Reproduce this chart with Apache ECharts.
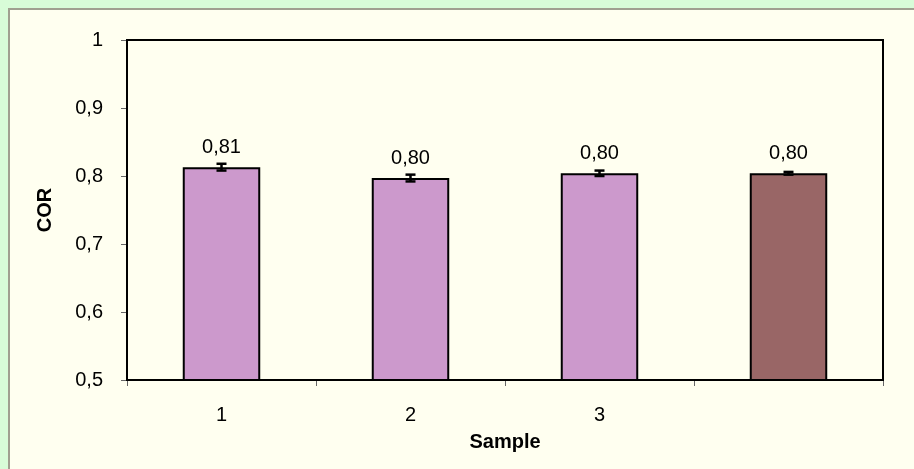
<!DOCTYPE html>
<html>
<head>
<meta charset="utf-8">
<script src="https://cdn.jsdelivr.net/npm/echarts@6/dist/echarts.min.js"></script>
<style>
  html, body { margin: 0; padding: 0; background: #d8fcd8; }
  #chart { width: 914px; height: 469px; }
</style>
</head>
<body>
<div id="chart"></div>
<script>
// values
const categories = ['1', '2', '3', '']
const corValues = [0.813, 0.797, 0.804, 0.804]
const corErrors = [0.005, 0.005, 0.004, 0.002]
const barColors = ['#cc99cc', '#cc99cc', '#cc99cc', '#996666']
const yTicks = [0.5, 0.6, 0.7, 0.8, 0.9, 1]

const fmt = (v) => (v === 1 ? '1' : v.toFixed(1).replace('.', ','))
const font = 'Liberation Sans'

const myChart = echarts.init(document.getElementById('chart'))

const option = {
  backgroundColor: '#d8fcd8',
  animation: false,
  title: {
    text: 'Coefficient of Restitution',
    left: 'center',
    top: -21,
    textStyle: { fontFamily: font, fontSize: 19, fontWeight: 'bold', color: '#555' },
    z: -2,
    zlevel: 0
  },
  graphic: [
    {
      type: 'rect',
      z: -1,
      zlevel: 0,
      silent: true,
      shape: { x: 9, y: 9, width: 920, height: 480 },
      style: { fill: '#fffff0', stroke: '#a0a090', lineWidth: 2 }
    }
  ],
  grid: {
    left: 127,
    right: 31,
    top: 40,
    bottom: 89,
    show: true,
    borderColor: '#000',
    borderWidth: 2,
    backgroundColor: 'transparent',
    z: 5
  },
  xAxis: {
    type: 'category',
    data: categories,
    name: 'Sample',
    nameLocation: 'middle',
    nameGap: 52,
    nameTextStyle: { fontFamily: font, fontSize: 20, fontWeight: 'bold', color: '#000' },
    axisLine: { lineStyle: { color: '#000', width: 2 } },
    axisTick: { show: true, alignWithLabel: false, length: 6, lineStyle: { color: '#666' } },
    axisLabel: { margin: 25, fontFamily: font, fontSize: 20, color: '#000' }
  },
  yAxis: {
    type: 'value',
    min: 0.5,
    max: 1,
    interval: 0.1,
    name: 'COR',
    nameLocation: 'middle',
    nameGap: 72,
    nameTextStyle: { fontFamily: font, fontSize: 20, fontWeight: 'bold', color: '#000' },
    axisLine: { show: true, lineStyle: { color: '#000', width: 2 } },
    axisTick: { show: true, length: 6, lineStyle: { color: '#666' } },
    splitLine: { show: false },
    axisLabel: {
      margin: 24,
      fontFamily: font,
      fontSize: 20,
      color: '#000',
      formatter: (v) => {
        const t = yTicks.find((x) => Math.abs(x - v) < 1e-6)
        return t === undefined ? '' : fmt(t)
      }
    }
  },
  series: [
    {
      type: 'bar',
      barWidth: '41%',
      data: corValues.map((v, i) => ({
        value: v,
        itemStyle: { color: barColors[i], borderColor: '#000', borderWidth: 2 }
      })),
      label: {
        show: true,
        position: 'top',
        distance: 10,
        fontFamily: font,
        fontSize: 20,
        color: '#000',
        formatter: (p) => p.value.toFixed(2).replace('.', ',')
      },
      z: 2
    },
    {
      type: 'custom',
      data: corValues.map((v, i) => [i, v, corErrors[i]]),
      renderItem: (params, api) => {
        const x = api.value(0)
        const v = api.value(1)
        const e = api.value(2)
        const hi = api.coord([x, v + e])
        const lo = api.coord([x, v - e])
        const cap = 5
        const style = { stroke: '#000', lineWidth: 2.5 }
        return {
          type: 'group',
          children: [
            { type: 'line', shape: { x1: hi[0], y1: hi[1], x2: lo[0], y2: lo[1] }, style },
            { type: 'line', shape: { x1: hi[0] - cap, y1: hi[1], x2: hi[0] + cap, y2: hi[1] }, style },
            { type: 'line', shape: { x1: lo[0] - cap, y1: lo[1], x2: lo[0] + cap, y2: lo[1] }, style }
          ]
        }
      },
      z: 3
    }
  ]
}

option && myChart.setOption(option)
</script>
</body>
</html>
